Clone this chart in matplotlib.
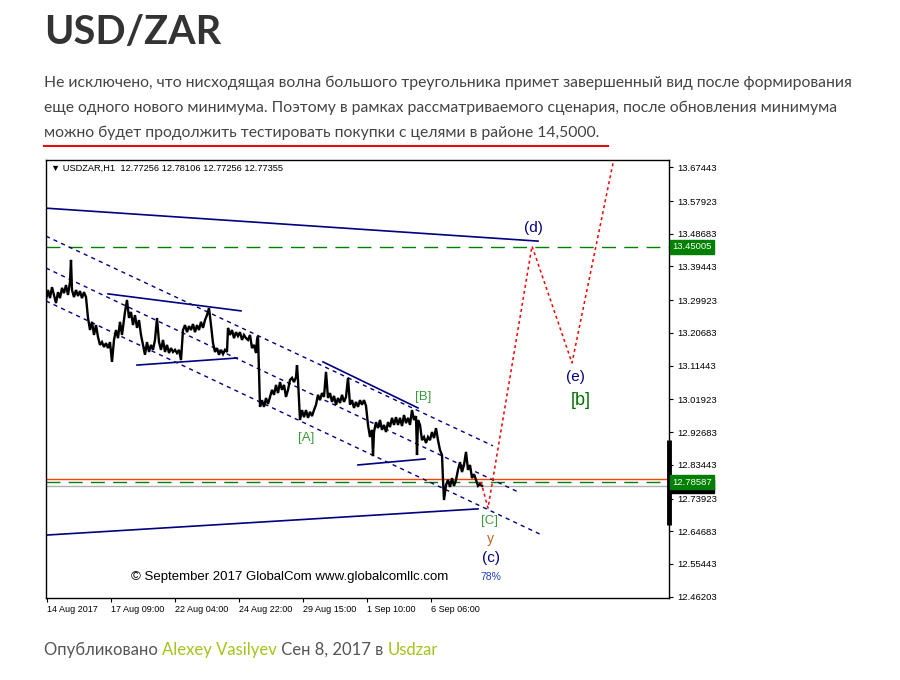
import matplotlib
matplotlib.use("Agg")
import matplotlib.pyplot as plt
import matplotlib.transforms as mtransforms
from matplotlib.lines import Line2D

# ---- page text ----
TITLE = "USD/ZAR"
PARAGRAPH = [
    "Не исключено, что нисходящая волна большого треугольника примет завершенный вид после формирования",
    "еще одного нового минимума. Поэтому в рамках рассматриваемого сценария, после обновления минимума",
    "можно будет продолжить тестировать покупки с целями в районе 14,5000.",
]
FOOTER_PARTS = ["Опубликовано ", "Alexey Vasilyev", " Сен 8, 2017 в ", "Usdzar"]
FOOTER_LINKS = [False, True, False, True]
CHART_HEADER = "USDZAR,H1  12.77256 12.78106 12.77256 12.77355"
COPYRIGHT = "© September 2017 GlobalCom www.globalcomllc.com"

# ---- H1 price path (bar index, price) ----
h1_bar = [
    0, 2, 4, 6, 8, 10, 12, 14, 16, 18, 20, 22, 24, 25, 26, 28, 30, 32, 34, 36, 38, 40, 42, 44, 46, 48, 50, 52, 54,
    56, 58, 60, 62, 64, 66, 68, 70, 72, 74, 76, 79, 81, 83, 85, 87, 89, 91, 93, 95, 97, 99, 101, 103, 105, 107, 109, 111, 113,
    115, 117, 119, 121, 123, 125, 127, 129, 131, 133, 135, 137, 139, 141, 143, 145, 147, 149, 151, 153, 155, 157, 159, 161, 163, 165, 167, 169, 171,
    173, 175, 177, 179, 181, 182, 184, 186, 188, 190, 192, 194, 196, 198, 200, 202, 204, 206, 208, 210, 211, 212, 213, 214,
    216, 218, 220, 222, 224, 226, 228, 230, 232, 234, 236, 238, 240, 242, 244, 246, 248, 250, 251, 252, 254,
    256, 258, 260, 262, 264, 266, 268, 270, 272, 274, 276, 278, 280, 282, 284, 286, 288, 290, 292, 294, 296, 298, 300, 302, 304,
    306, 308, 310, 312, 314, 316, 318, 320, 322, 324, 326, 327, 328, 330, 332, 334, 336, 338, 340, 342, 344, 346, 348, 350, 352, 354,
    356, 358, 360, 362, 364, 366, 368, 370, 371, 372, 374, 376, 378, 380, 382, 384, 386, 388, 390, 392, 394, 396, 397, 398,
    400, 402, 404, 406, 408, 410, 412, 414, 416, 418, 420, 422, 424, 426, 428, 430, 432, 434, 436,
]
h1_price = [
    13.300, 13.328, 13.305, 13.336, 13.314, 13.291, 13.322, 13.305, 13.334, 13.319, 13.342, 13.314, 13.351, 13.413, 13.328,
    13.308, 13.328, 13.311, 13.325, 13.305, 13.322, 13.308, 13.249, 13.215, 13.238, 13.201, 13.229, 13.195, 13.173,
    13.181, 13.167, 13.178, 13.164, 13.181, 13.125, 13.187, 13.215, 13.192, 13.238, 13.201, 13.266, 13.300, 13.249, 13.266,
    13.229, 13.257, 13.221, 13.243, 13.201, 13.173, 13.145, 13.181, 13.153, 13.173, 13.159, 13.187, 13.249, 13.181,
    13.159, 13.187, 13.153, 13.173, 13.150, 13.164, 13.153, 13.159, 13.150, 13.159, 13.130, 13.215, 13.229, 13.209, 13.226,
    13.215, 13.232, 13.209, 13.229, 13.215, 13.238, 13.221, 13.243, 13.257, 13.277, 13.229, 13.178, 13.153, 13.164,
    13.145, 13.159, 13.147, 13.159, 13.153, 13.221, 13.201, 13.215, 13.192, 13.209, 13.198, 13.209, 13.187, 13.201, 13.192,
    13.187, 13.201, 13.164, 13.173, 13.150, 13.187, 13.198, 13.102, 12.998,
    13.017, 12.998, 13.023, 13.006, 13.026, 13.046, 13.032, 13.060, 13.037, 13.068, 13.046, 13.060, 13.026, 13.046, 13.074,
    13.080, 13.068, 13.082, 13.116, 13.074, 12.961,
    12.989, 12.969, 12.989, 12.967, 12.984, 12.972, 12.989, 13.004, 13.032, 13.017, 13.037, 13.026, 13.097, 13.023, 13.037,
    13.012, 13.029, 13.004, 13.023, 13.009, 13.032, 13.012, 13.026, 13.080, 13.004,
    13.017, 12.995, 13.012, 12.998, 13.017, 13.004, 13.017, 13.001, 12.947, 12.913, 12.933, 12.859, 12.927, 12.955, 12.938,
    12.961, 12.933, 12.947, 12.927, 12.955, 12.941, 12.967, 12.947, 12.969, 12.947, 12.967,
    12.944, 12.975, 12.952, 12.967, 12.947, 12.989, 12.961, 12.972, 12.862, 12.961, 12.947, 12.904, 12.913, 12.896, 12.913,
    12.904, 12.927, 12.910, 12.938, 12.904, 12.876, 12.862, 12.792, 12.735,
    12.777, 12.792, 12.772, 12.797, 12.775, 12.792, 12.820, 12.842, 12.814, 12.834, 12.871, 12.820, 12.834, 12.797, 12.808,
    12.792, 12.775, 12.780, 12.775,
]

# ---- drawn objects (bar, price end points) ----
big_upper_bar, big_upper_price = [0, 492], [13.559, 13.466]
big_lower_bar, big_lower_price = [0, 432], [12.636, 12.710]
chan_a_bar, chan_a_price = [0, 447], [13.480, 12.888]
chan_b_bar, chan_b_price = [0, 472], [13.390, 12.758]
chan_c_bar, chan_c_price = [0, 496], [13.297, 12.636]
trend_b_bar, trend_b_price = [277, 372], [13.125, 12.995]
tri_up_bar, tri_up_price = [62, 195], [13.317, 13.269]
tri_lo_bar, tri_lo_price = [91, 191], [13.116, 13.136]
b_lo_bar, b_lo_price = [312, 379], [12.834, 12.851]
forecast_bar = [435, 442, 486, 526, 568]
forecast_price = [12.786, 12.712, 13.452, 13.122, 13.700]

target_level = 13.45005
ask_level = 12.7935
last_level = 12.78587
bid_level = 12.77355

price_ticks = [13.67443, 13.57923, 13.48683, 13.39443, 13.29923, 13.20683, 13.11443,
               13.01923, 12.92683, 12.83443, 12.73923, 12.64683, 12.55443, 12.46203]
date_tick_bar = [1, 65, 129, 193, 257, 321, 385]
date_tick_label = ["14 Aug 2017", "17 Aug 09:00", "22 Aug 04:00", "24 Aug 22:00",
                   "29 Aug 15:00", "1 Sep 10:00", "6 Sep 06:00"]

W, H = 900, 680
fig = plt.figure(figsize=(9, 6.8), dpi=100)
fig.patch.set_facecolor("white")

page_font = ["Lato", "DejaVu Sans"]
mt_font = ["Liberation Sans", "DejaVu Sans"]

fig.text(44 / W, 1 - 33 / H, TITLE, fontsize=28.5, fontweight="bold", color="#333333",
         family=page_font, va="center", ha="left")
for i, line in enumerate(PARAGRAPH):
    fig.text(44 / W, 1 - (83 + 25 * i) / H, line, fontsize=11.3, color="#444444",
             family=page_font, va="center", ha="left")
fig.add_artist(Line2D([44 / W, 608 / W], [1 - 146 / H, 1 - 146 / H], color="#e01010", lw=1.5))

# ---- chart ----
ax = fig.add_axes([46 / W, 1 - 598 / H, 623 / W, 438 / H])
ax.set_xlim(0, 623)
ax.set_ylim(12.4584, 13.6950)

navy = "#000080"
dot = (0, (3, 3))
ax.axhline(target_level, color="#008000", lw=1, ls=(0, (10, 6)))
ax.axhline(ask_level, color="#ff4000", lw=1)
ax.axhline(last_level, color="#008000", lw=1, ls=(0, (10, 6)))
ax.axhline(bid_level, color="#b0b0b0", lw=1)

ax.plot(big_upper_bar, big_upper_price, color=navy, lw=1.2)
ax.plot(big_lower_bar, big_lower_price, color=navy, lw=1.2)
for bx, py in [(chan_a_bar, chan_a_price), (chan_b_bar, chan_b_price), (chan_c_bar, chan_c_price)]:
    ax.plot(bx, py, color=navy, lw=1, ls=dot)
for bx, py in [(trend_b_bar, trend_b_price), (tri_up_bar, tri_up_price),
               (tri_lo_bar, tri_lo_price), (b_lo_bar, b_lo_price)]:
    ax.plot(bx, py, color=navy, lw=1.2)

ax.plot(h1_bar, h1_price, color="black", lw=1.7, solid_joinstyle="miter")
ax.plot(forecast_bar, forecast_price, color="red", lw=1.1, ls=(0, (2, 2)))

# wave labels
ax.text(487, 13.503, "(d)", color=navy, fontsize=11, family=mt_font, ha="center", va="center")
ax.text(529, 13.082, "(e)", color=navy, fontsize=11, family=mt_font, ha="center", va="center")
ax.text(535, 13.017, "[b]", color="#007000", fontsize=13, family=mt_font, ha="center", va="center")
ax.text(377, 13.026, "[B]", color="#3a9a3a", fontsize=9.5, family=mt_font, ha="center", va="center")
ax.text(260, 12.910, "[A]", color="#3a9a3a", fontsize=9.5, family=mt_font, ha="center", va="center")
ax.text(444, 12.676, "[C]", color="#3a9a3a", fontsize=9.5, family=mt_font, ha="center", va="center")
ax.text(444, 12.625, "y", color="#c0601c", fontsize=10, family=mt_font, ha="center", va="center")
ax.text(445, 12.571, "(c)", color=navy, fontsize=11, family=mt_font, ha="center", va="center")
ax.text(445, 12.518, "78%", color="#2040c0", fontsize=7.5, family=mt_font, ha="center", va="center")
ax.text(244, 12.517, COPYRIGHT, color="black", fontsize=9.5, family=mt_font, ha="center", va="center")
ax.text(0.008, 0.982, "▼ " + CHART_HEADER, transform=ax.transAxes, fontsize=6.7,
        family=mt_font, ha="left", va="center")

# axes styling
for s in ax.spines.values():
    s.set_color("black")
    s.set_linewidth(1)
ax.yaxis.tick_right()
ax.set_yticks(price_ticks)
ax.set_yticklabels([f"{v:.5f}" for v in price_ticks])
ax.tick_params(axis="y", direction="out", length=3, labelsize=6.8, pad=3, colors="black")
ax.set_xticks(date_tick_bar)
ax.set_xticklabels(date_tick_label)
ax.tick_params(axis="x", direction="out", length=3, labelsize=6.5, pad=2)
for lbl in ax.get_xticklabels() + ax.get_yticklabels():
    lbl.set_family(mt_font)
for lbl in ax.get_xticklabels():
    lbl.set_ha("left")

# price boxes on the scale
tr = mtransforms.blended_transform_factory(ax.transAxes, ax.transData)
ax.plot([1.0, 1.0], [12.664, 12.904], transform=tr, color="black", lw=3.5, clip_on=False,
        solid_capstyle="butt")
box_specs = [(bid_level, "black"), (last_level, "#008000"), (target_level, "#008000")]
for lvl, c in box_specs:
    ax.text(1.005, lvl, f"{lvl:.5f}", transform=tr, color="white", fontsize=6.8, family=mt_font,
            ha="left", va="center",
            bbox=dict(boxstyle="square,pad=0.25", facecolor=c, edgecolor=c))

# ---- footer with coloured links ----
renderer = fig.canvas.get_renderer()
x = 44 / W
for part, link in zip(FOOTER_PARTS, FOOTER_LINKS):
    t = fig.text(x, 1 - 650 / H, part, fontsize=12, family=page_font,
                 color="#a3c41a" if link else "#555555", va="center", ha="left")
    bb = t.get_window_extent(renderer)
    x = bb.x1 / W

fig.savefig("out.png", dpi=100)
